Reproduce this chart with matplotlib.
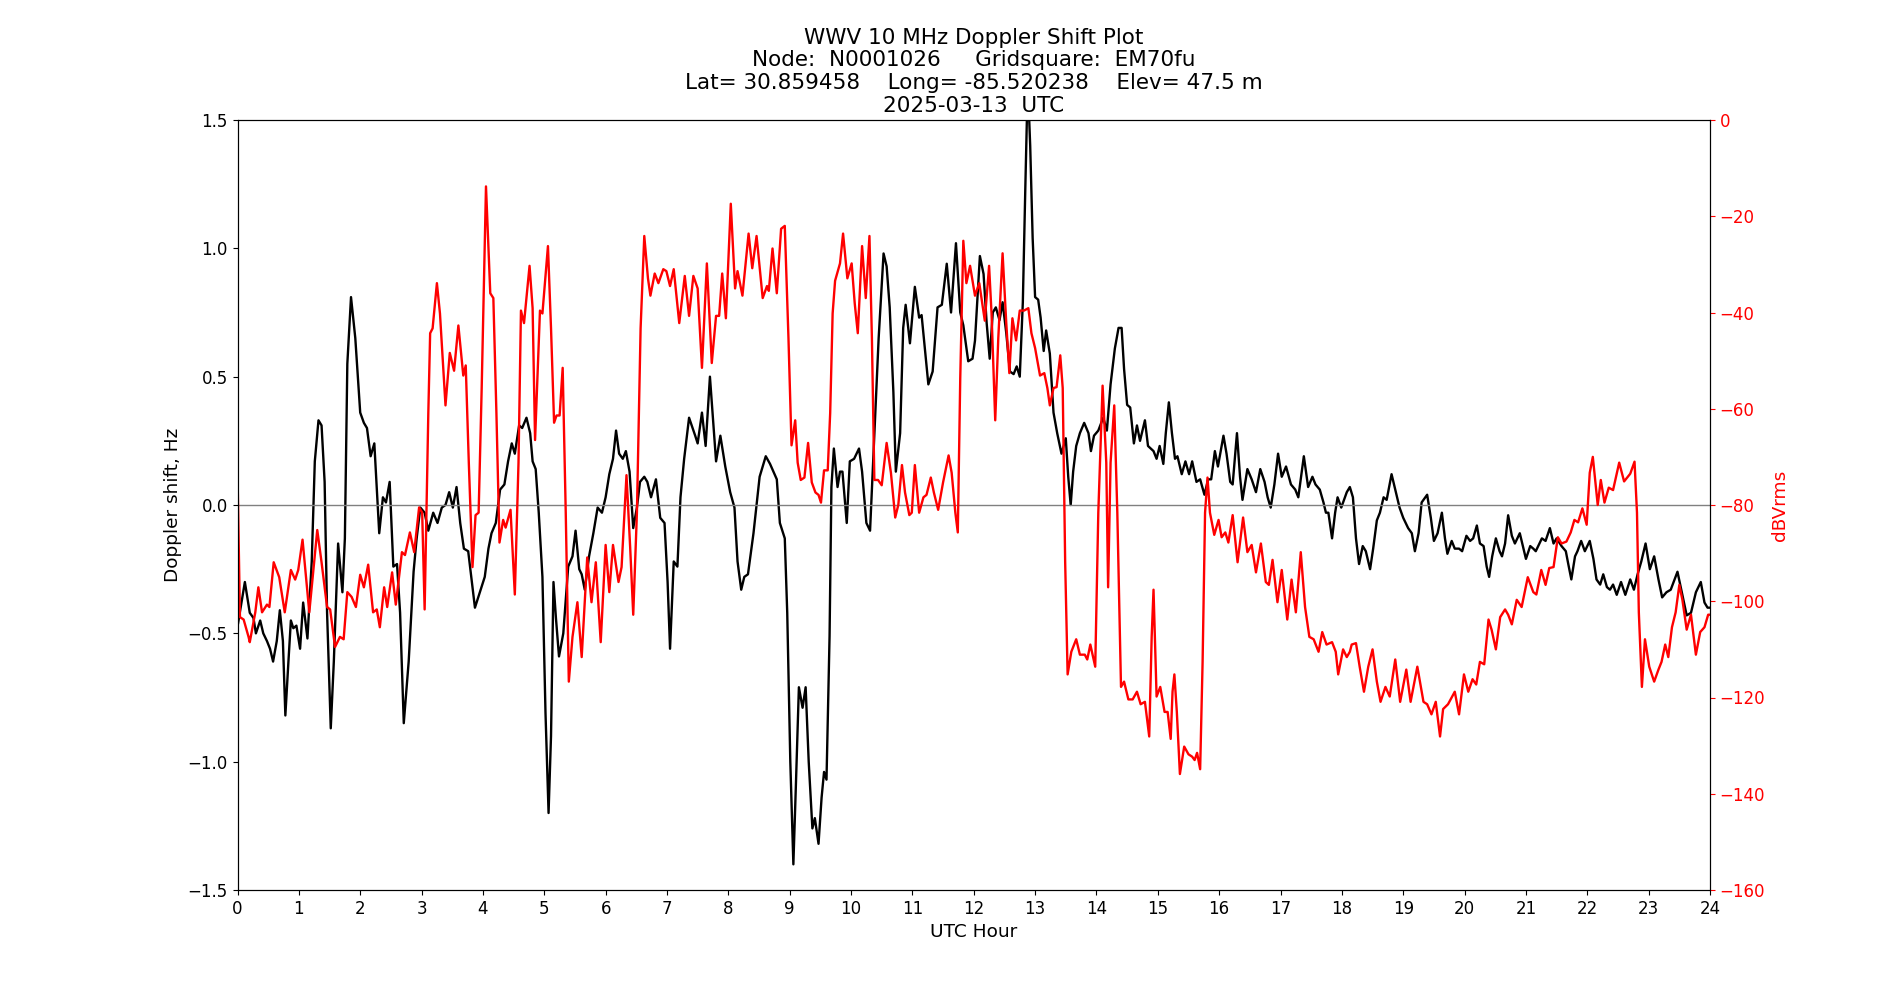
import matplotlib
matplotlib.use('Agg')
import matplotlib.pyplot as plt

title = ('WWV 10 MHz Doppler Shift Plot\n'
         'Node:  N0001026     Gridsquare:  EM70fu\n'
         'Lat= 30.859458    Long= -85.520238    Elev= 47.5 m\n'
         '2025-03-13  UTC')

# Doppler shift (Hz), black trace
doppler_hours = [
    0.01, 0.12, 0.20, 0.26, 0.30, 0.37, 0.42, 0.48, 0.53, 0.58, 0.64, 0.69, 0.74, 0.78, 0.83, 0.87, 0.91, 0.96,
    1.02, 1.07, 1.14, 1.21, 1.26, 1.32, 1.37, 1.42, 1.46, 1.52, 1.57, 1.64, 1.71, 1.75, 1.79, 1.85, 1.92,
    2.00, 2.06, 2.11, 2.17, 2.23, 2.31, 2.37, 2.42, 2.48, 2.54, 2.60, 2.65, 2.71, 2.79, 2.87, 2.92, 2.98,
    3.05, 3.11, 3.19, 3.26, 3.33, 3.39, 3.45, 3.51, 3.57, 3.63, 3.69, 3.76, 3.82, 3.87, 3.95,
    4.03, 4.09, 4.14, 4.21, 4.28, 4.35, 4.41, 4.47, 4.52, 4.59, 4.64, 4.71, 4.77, 4.81, 4.86, 4.91, 4.97,
    5.02, 5.07, 5.11, 5.15, 5.19, 5.24, 5.31, 5.39, 5.46, 5.51, 5.57, 5.61, 5.66, 5.73, 5.80, 5.87, 5.94,
    6.00, 6.06, 6.12, 6.17, 6.22, 6.28, 6.33, 6.39, 6.45, 6.51, 6.56, 6.63, 6.68, 6.74, 6.82, 6.89, 6.96,
    7.01, 7.05, 7.11, 7.17, 7.22, 7.28, 7.36, 7.46, 7.50, 7.57, 7.63, 7.70, 7.76, 7.80, 7.87, 7.95,
    8.03, 8.10, 8.15, 8.21, 8.26, 8.32, 8.41, 8.51, 8.61, 8.68, 8.79, 8.84, 8.92, 8.96,
    9.01, 9.06, 9.10, 9.15, 9.21, 9.26, 9.31, 9.37, 9.41, 9.47, 9.52, 9.56, 9.60, 9.65, 9.68, 9.72, 9.78,
    9.82, 9.86, 9.93, 9.98, 10.05, 10.13, 10.18, 10.25, 10.31, 10.36, 10.45, 10.53, 10.58, 10.63, 10.69,
    10.73, 10.80, 10.85, 10.89, 10.96, 11.04, 11.11, 11.15, 11.26, 11.33, 11.41, 11.48, 11.56, 11.63,
    11.71, 11.78, 11.83, 11.91, 11.98, 12.02, 12.10, 12.16, 12.21, 12.26, 12.31, 12.36, 12.42, 12.47,
    12.53, 12.59, 12.65, 12.70, 12.75, 12.80, 12.84, 12.88, 12.92, 12.96, 13.00, 13.05, 13.09, 13.14,
    13.18, 13.24, 13.30, 13.36, 13.43, 13.50, 13.54, 13.58, 13.62, 13.67, 13.73, 13.80, 13.87, 13.91,
    13.96, 14.03, 14.11, 14.17, 14.23, 14.30, 14.36, 14.41, 14.45, 14.50, 14.55, 14.61, 14.66, 14.71,
    14.79, 14.84, 14.93, 14.98, 15.03, 15.09, 15.13, 15.18, 15.23, 15.28, 15.32, 15.39, 15.45, 15.51,
    15.56, 15.63, 15.69, 15.76, 15.82, 15.87, 15.93, 15.98, 16.07, 16.12, 16.18, 16.22, 16.29, 16.34,
    16.38, 16.46, 16.53, 16.60, 16.67, 16.74, 16.79, 16.84, 16.90, 16.96, 17.02, 17.09, 17.17, 17.24,
    17.29, 17.38, 17.45, 17.52, 17.57, 17.64, 17.70, 17.74, 17.78, 17.84, 17.89, 17.93, 17.99, 18.08,
    18.13, 18.18, 18.23, 18.28, 18.34, 18.39, 18.46, 18.51, 18.57, 18.62, 18.68, 18.73, 18.81, 18.87,
    18.94, 19.00, 19.08, 19.14, 19.19, 19.25, 19.30, 19.39, 19.45, 19.50, 19.56, 19.63, 19.68, 19.72,
    19.79, 19.84, 19.91, 19.96, 20.03, 20.09, 20.14, 20.20, 20.25, 20.31, 20.36, 20.40, 20.45, 20.51,
    20.57, 20.61, 20.66, 20.71, 20.77, 20.82, 20.90, 20.96, 21.00, 21.07, 21.12, 21.16, 21.26, 21.32,
    21.39, 21.45, 21.50, 21.58, 21.65, 21.69, 21.74, 21.80, 21.84, 21.90, 21.96, 22.04, 22.10, 22.15,
    22.21, 22.26, 22.32, 22.37, 22.42, 22.48, 22.55, 22.62, 22.70, 22.76, 22.82, 22.88, 22.95, 23.02,
    23.09, 23.16, 23.22, 23.29, 23.36, 23.47, 23.55, 23.62, 23.69, 23.77, 23.85, 23.91, 23.96, 24.00]
doppler_hz = [
    -0.46, -0.30, -0.42, -0.44, -0.50, -0.45, -0.50, -0.53, -0.56, -0.61, -0.53, -0.41, -0.53, -0.82, -0.61, -0.45, -0.48, -0.47,
    -0.56, -0.38, -0.52, -0.22, 0.17, 0.33, 0.31, 0.09, -0.42, -0.87, -0.61, -0.15, -0.34, -0.13, 0.55, 0.81, 0.65,
    0.36, 0.32, 0.30, 0.19, 0.24, -0.11, 0.03, 0.01, 0.09, -0.24, -0.23, -0.42, -0.85, -0.61, -0.26, -0.13, -0.01,
    -0.03, -0.10, -0.03, -0.07, -0.01, 0.00, 0.05, -0.01, 0.07, -0.07, -0.17, -0.18, -0.30, -0.40, -0.34,
    -0.28, -0.17, -0.11, -0.07, 0.06, 0.08, 0.17, 0.24, 0.20, 0.31, 0.30, 0.34, 0.28, 0.17, 0.14, -0.03, -0.28,
    -0.81, -1.20, -0.90, -0.30, -0.44, -0.59, -0.50, -0.24, -0.20, -0.10, -0.25, -0.27, -0.33, -0.20, -0.11, -0.01, -0.03,
    0.03, 0.12, 0.18, 0.29, 0.20, 0.18, 0.21, 0.13, -0.09, -0.01, 0.09, 0.11, 0.09, 0.03, 0.10, -0.05, -0.07,
    -0.30, -0.56, -0.22, -0.24, 0.03, 0.18, 0.34, 0.27, 0.24, 0.36, 0.23, 0.50, 0.30, 0.17, 0.27, 0.15,
    0.05, -0.01, -0.22, -0.33, -0.28, -0.27, -0.11, 0.11, 0.19, 0.16, 0.10, -0.07, -0.13, -0.42,
    -1.00, -1.40, -1.10, -0.71, -0.79, -0.71, -1.00, -1.26, -1.22, -1.32, -1.14, -1.04, -1.07, -0.51, 0.07, 0.22, 0.07,
    0.13, 0.13, -0.07, 0.17, 0.18, 0.22, 0.13, -0.07, -0.10, 0.17, 0.65, 0.98, 0.93, 0.77, 0.44,
    0.13, 0.28, 0.69, 0.78, 0.63, 0.85, 0.73, 0.74, 0.47, 0.52, 0.77, 0.78, 0.94, 0.75,
    1.02, 0.75, 0.70, 0.56, 0.57, 0.64, 0.97, 0.90, 0.71, 0.57, 0.75, 0.77, 0.72, 0.79,
    0.67, 0.52, 0.51, 0.54, 0.50, 0.79, 1.23, 1.65, 1.40, 1.04, 0.81, 0.80, 0.73, 0.60,
    0.68, 0.59, 0.36, 0.28, 0.20, 0.26, 0.11, 0.00, 0.13, 0.23, 0.28, 0.32, 0.28, 0.21,
    0.27, 0.29, 0.34, 0.29, 0.47, 0.61, 0.69, 0.69, 0.53, 0.39, 0.38, 0.24, 0.31, 0.25,
    0.33, 0.23, 0.21, 0.18, 0.23, 0.16, 0.28, 0.40, 0.28, 0.18, 0.19, 0.12, 0.17, 0.12,
    0.17, 0.09, 0.10, 0.04, 0.10, 0.10, 0.21, 0.15, 0.27, 0.20, 0.09, 0.08, 0.28, 0.11,
    0.02, 0.14, 0.10, 0.05, 0.14, 0.09, 0.03, -0.01, 0.08, 0.20, 0.11, 0.15, 0.08, 0.06,
    0.03, 0.19, 0.07, 0.11, 0.08, 0.06, 0.01, -0.03, -0.03, -0.13, -0.03, 0.03, -0.01, 0.05,
    0.07, 0.03, -0.13, -0.23, -0.16, -0.18, -0.25, -0.17, -0.06, -0.03, 0.03, 0.02, 0.12, 0.06,
    -0.01, -0.05, -0.09, -0.11, -0.18, -0.11, 0.01, 0.04, -0.05, -0.14, -0.11, -0.03, -0.13, -0.19,
    -0.14, -0.17, -0.17, -0.18, -0.12, -0.14, -0.13, -0.08, -0.15, -0.16, -0.24, -0.28, -0.20, -0.13,
    -0.18, -0.20, -0.15, -0.04, -0.12, -0.15, -0.11, -0.17, -0.21, -0.16, -0.17, -0.18, -0.13, -0.14,
    -0.09, -0.15, -0.13, -0.16, -0.18, -0.23, -0.29, -0.20, -0.18, -0.14, -0.18, -0.14, -0.21, -0.29,
    -0.31, -0.27, -0.32, -0.33, -0.31, -0.35, -0.30, -0.35, -0.29, -0.33, -0.27, -0.22, -0.15, -0.25,
    -0.20, -0.29, -0.36, -0.34, -0.33, -0.26, -0.35, -0.43, -0.42, -0.34, -0.30, -0.38, -0.40, -0.40]

# received signal level (dBVrms), red trace
power_hours = [
    0.00, 0.04, 0.10, 0.18, 0.20, 0.29, 0.34, 0.40, 0.48, 0.52, 0.59, 0.68, 0.77, 0.87, 0.94, 0.99,
    1.06, 1.17, 1.25, 1.30, 1.37, 1.46, 1.51, 1.59, 1.67, 1.73, 1.79, 1.86, 1.93, 2.00, 2.06, 2.13,
    2.21, 2.27, 2.32, 2.39, 2.44, 2.52, 2.58, 2.68, 2.73, 2.81, 2.88, 2.96, 3.01, 3.05, 3.11, 3.14,
    3.18, 3.25, 3.30, 3.39, 3.46, 3.53, 3.60, 3.68, 3.72, 3.77, 3.83, 3.88, 3.93, 3.98, 4.05, 4.12,
    4.17, 4.22, 4.27, 4.33, 4.37, 4.45, 4.52, 4.58, 4.62, 4.67, 4.76, 4.81, 4.85, 4.93, 4.97, 5.06,
    5.11, 5.16, 5.20, 5.25, 5.30, 5.35, 5.40, 5.46, 5.54, 5.61, 5.70, 5.77, 5.84, 5.92, 6.00, 6.06,
    6.12, 6.21, 6.26, 6.34, 6.40, 6.45, 6.51, 6.57, 6.63, 6.69, 6.73, 6.80, 6.86, 6.94, 6.99, 7.05,
    7.11, 7.20, 7.29, 7.36, 7.43, 7.50, 7.57, 7.65, 7.73, 7.80, 7.85, 7.90, 7.96, 8.04, 8.11, 8.15,
    8.23, 8.33, 8.39, 8.46, 8.56, 8.63, 8.66, 8.72, 8.79, 8.86, 8.92, 8.98, 9.03, 9.09, 9.13, 9.18,
    9.24, 9.30, 9.36, 9.42, 9.47, 9.51, 9.56, 9.62, 9.66, 9.70, 9.74, 9.82, 9.87, 9.94, 10.01, 10.06,
    10.11, 10.18, 10.24, 10.30, 10.34, 10.38, 10.44, 10.50, 10.58, 10.65, 10.72, 10.77, 10.83, 10.88,
    10.95, 10.99, 11.04, 11.11, 11.18, 11.23, 11.30, 11.35, 11.42, 11.50, 11.59, 11.64, 11.70, 11.74,
    11.78, 11.83, 11.88, 11.94, 12.02, 12.09, 12.18, 12.25, 12.29, 12.35, 12.40, 12.47, 12.53, 12.58,
    12.63, 12.69, 12.75, 12.82, 12.89, 12.94, 13.00, 13.08, 13.15, 13.20, 13.24, 13.30, 13.35, 13.41,
    13.45, 13.49, 13.53, 13.59, 13.67, 13.73, 13.81, 13.85, 13.90, 13.98, 14.03, 14.10, 14.16, 14.19,
    14.23, 14.29, 14.34, 14.40, 14.45, 14.52, 14.59, 14.66, 14.72, 14.79, 14.86, 14.90, 14.93, 14.98,
    15.04, 15.11, 15.16, 15.21, 15.24, 15.27, 15.31, 15.36, 15.43, 15.50, 15.56, 15.60, 15.64, 15.69,
    15.73, 15.77, 15.81, 15.85, 15.92, 15.99, 16.04, 16.10, 16.15, 16.22, 16.30, 16.39, 16.46, 16.53,
    16.60, 16.68, 16.76, 16.81, 16.87, 16.95, 17.02, 17.11, 17.18, 17.25, 17.33, 17.40, 17.47, 17.54,
    17.62, 17.68, 17.75, 17.84, 17.90, 17.94, 18.02, 18.08, 18.13, 18.16, 18.23, 18.29, 18.36, 18.43,
    18.50, 18.57, 18.63, 18.71, 18.78, 18.87, 18.95, 19.05, 19.12, 19.23, 19.33, 19.39, 19.46, 19.53,
    19.60, 19.65, 19.73, 19.84, 19.91, 19.99, 20.06, 20.13, 20.19, 20.25, 20.32, 20.39, 20.44, 20.51,
    20.58, 20.66, 20.71, 20.77, 20.85, 20.93, 21.03, 21.12, 21.17, 21.25, 21.32, 21.38, 21.45, 21.52,
    21.58, 21.66, 21.73, 21.79, 21.85, 21.92, 21.99, 22.04, 22.09, 22.17, 22.22, 22.28, 22.35, 22.42,
    22.52, 22.60, 22.70, 22.77, 22.81, 22.84, 22.89, 22.94, 23.01, 23.09, 23.16, 23.21, 23.27, 23.32,
    23.38, 23.44, 23.50, 23.55, 23.62, 23.69, 23.77, 23.84, 23.91, 23.97, 24.00]
power_dbv = [
    -73.3, -103.3, -103.8, -107.4, -108.5, -102.3, -97.1, -102.3, -100.7, -101.2, -91.9, -95.0, -102.3, -93.5, -95.5, -93.5,
    -87.2, -102.3, -91.9, -85.2, -91.9, -101.2, -101.7, -109.5, -107.4, -107.9, -98.1, -99.1, -101.2, -94.5, -97.1, -92.4,
    -102.3, -101.7, -105.4, -97.1, -101.2, -94.0, -100.7, -89.8, -90.4, -85.7, -89.8, -80.5, -81.6, -101.7, -60.9, -44.3,
    -43.3, -33.9, -40.2, -59.3, -48.4, -52.1, -42.7, -53.1, -51.0, -71.2, -92.9, -82.1, -81.6, -55.7, -13.8, -36.0,
    -37.0, -60.9, -87.8, -83.1, -84.7, -81.0, -98.6, -71.2, -39.6, -42.2, -30.3, -39.1, -66.5, -39.6, -40.2, -26.2,
    -43.3, -62.9, -61.4, -61.4, -51.5, -81.6, -116.7, -107.4, -100.2, -111.6, -90.9, -100.2, -91.9, -108.5, -88.3, -98.1,
    -88.3, -96.0, -92.9, -73.8, -88.8, -102.8, -81.6, -43.3, -24.1, -32.9, -36.5, -31.9, -33.9, -31.0, -31.4, -34.5,
    -31.0, -42.2, -32.4, -40.7, -32.4, -35.0, -51.5, -29.8, -50.5, -40.7, -40.7, -31.9, -41.2, -17.4, -35.0, -31.4,
    -36.5, -23.6, -30.8, -24.1, -37.0, -34.5, -35.5, -26.7, -36.0, -22.6, -22.0, -45.3, -67.6, -62.4, -71.2, -74.8,
    -74.3, -67.1, -75.3, -77.4, -77.9, -79.5, -72.8, -72.8, -60.9, -40.2, -33.4, -29.8, -23.6, -32.9, -29.8, -38.1,
    -44.3, -26.2, -37.0, -24.1, -45.3, -74.8, -74.8, -75.9, -67.1, -73.3, -82.6, -80.0, -71.7, -77.4,
    -82.1, -81.6, -71.7, -81.6, -78.4, -77.9, -74.3, -77.4, -81.0, -75.3, -69.7, -73.3, -81.6, -85.7,
    -53.6, -25.1, -33.9, -30.3, -36.5, -33.9, -41.7, -30.3, -40.2, -62.4, -45.3, -27.7, -42.2, -52.6,
    -41.2, -45.8, -39.6, -39.6, -39.1, -44.3, -47.4, -53.1, -52.6, -55.7, -59.3, -55.7, -55.5, -48.9,
    -55.7, -91.9, -115.2, -110.5, -107.9, -111.1, -111.1, -112.1, -109.0, -113.6, -81.6, -55.2, -71.2, -97.1,
    -71.2, -59.3, -81.6, -117.8, -116.7, -120.4, -120.4, -118.8, -121.4, -120.9, -128.1, -107.4, -97.6, -119.8,
    -117.8, -123.0, -123.0, -128.6, -118.8, -115.2, -123.0, -135.9, -130.2, -131.8, -132.3, -133.0, -131.5, -134.9,
    -112.6, -81.6, -74.3, -81.6, -86.2, -83.1, -86.7, -85.7, -87.8, -82.1, -91.9, -82.6, -89.8, -88.3,
    -94.0, -88.0, -96.0, -96.6, -91.4, -100.2, -93.5, -103.8, -95.5, -102.3, -89.8, -101.2, -107.4, -107.9,
    -110.5, -106.4, -109.0, -108.5, -110.5, -115.2, -110.0, -111.6, -110.5, -109.0, -108.7, -113.6, -118.8, -113.6,
    -110.0, -116.7, -120.9, -117.8, -119.8, -112.1, -120.9, -114.2, -120.9, -113.6, -120.9, -121.4, -123.5, -120.9,
    -128.1, -122.4, -121.4, -118.8, -123.5, -115.2, -118.8, -116.2, -117.3, -112.6, -113.1, -103.8, -105.9, -110.0,
    -103.3, -101.7, -102.8, -104.8, -99.7, -101.2, -95.0, -98.1, -98.6, -93.5, -96.6, -93.1, -92.9, -86.7,
    -88.0, -87.6, -85.7, -83.1, -83.6, -80.7, -84.1, -73.3, -70.0, -80.0, -74.8, -79.5, -76.4, -76.9,
    -71.2, -75.1, -73.5, -71.0, -81.6, -102.3, -117.8, -107.9, -113.6, -116.7, -114.2, -112.6, -109.0, -111.6,
    -105.4, -102.3, -96.6, -99.7, -105.9, -102.8, -111.1, -106.4, -105.4, -102.8, -102.8]

hour_ticks = list(range(0, 25))

plt.rcParams['font.size'] = 12

fig, ax = plt.subplots(figsize=(19, 10), dpi=100)

ax.plot(doppler_hours, doppler_hz, color='black', linewidth=1.7)
ax.axhline(0, color='grey', linewidth=1)
ax.set_xlim(0, 24)
ax.set_ylim(-1.5, 1.5)
ax.set_xticks(hour_ticks)
ax.set_xlabel('UTC Hour', fontsize=13.3)
ax.set_ylabel('Doppler shift, Hz', fontsize=13.3)
ax.set_title(title, fontsize=15.5, linespacing=1.17)

ax2 = ax.twinx()
ax2.plot(power_hours, power_dbv, color='red', linewidth=1.7)
ax2.set_ylim(-160, 0)
ax2.set_ylabel('dBVrms', color='red', fontsize=13.3)
ax2.tick_params(axis='y', colors='red')
ax2.spines['right'].set_color('black')

fig.savefig('out.png')
